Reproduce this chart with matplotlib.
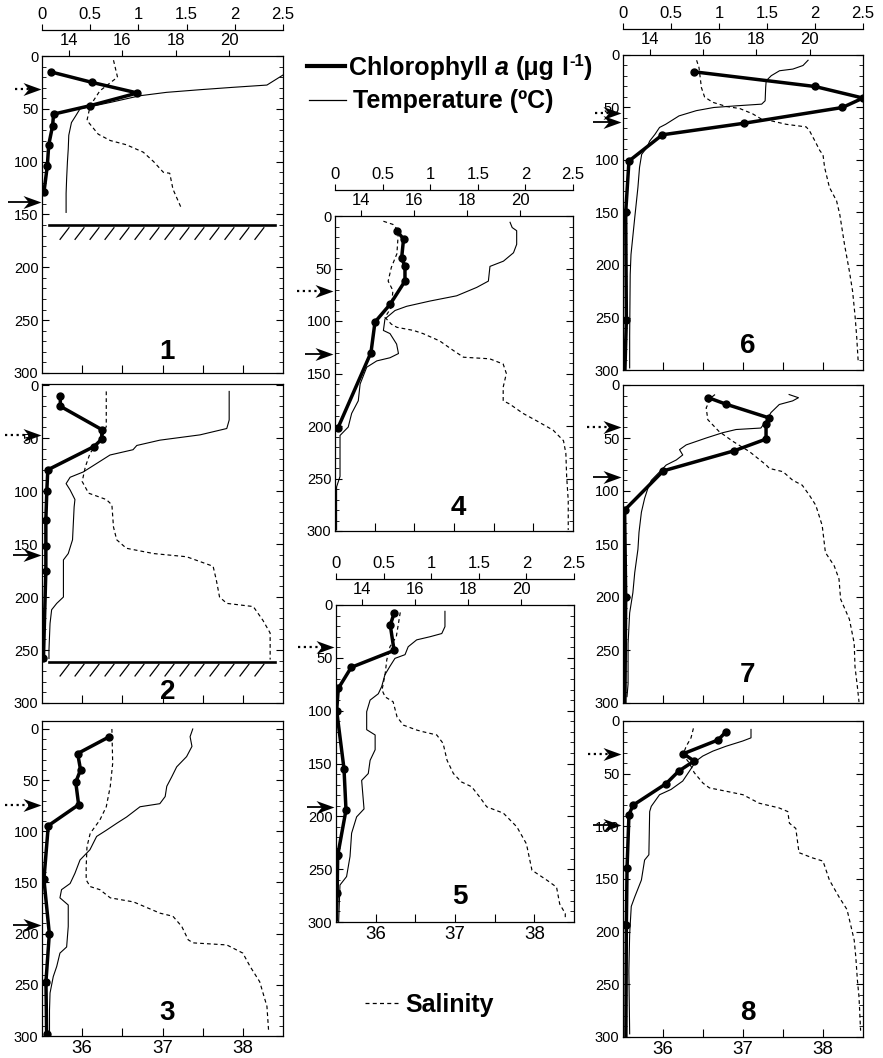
import numpy as np
import matplotlib
matplotlib.use("Agg")
import matplotlib.pyplot as plt
from matplotlib.path import Path
from matplotlib.lines import Line2D
from matplotlib import transforms as mtrans
from matplotlib.ticker import MultipleLocator, FixedLocator, FixedFormatter, NullLocator

plt.rcParams['font.family'] = ['Liberation Sans', 'DejaVu Sans']
plt.rcParams['axes.linewidth'] = 0.9

# ---------------- data ----------------
chl_ticks = [0, 0.5, 1, 1.5, 2, 2.5]
chl_ticklabels = ['0', '0.5', '1', '1.5', '2', '2.5']
temp_ticks = [14, 16, 18, 20]
temp_ticklabels = ['14', '16', '18', '20']
sal_ticks = [36, 37, 38]
sal_ticklabels = ['36', '37', '38']
sal_minor_ticks = [36.5, 37.5]

# Station 1
chl1_depth = [15, 25, 35, 47, 55, 66, 84, 104, 129]
chl1 = [0.09, 0.52, 0.99, 0.50, 0.12, 0.11, 0.07, 0.055, 0.02]
temp1_depth = [14, 18, 27.5, 29.7, 31.9, 34.4, 37.6, 44, 50, 57, 63, 75, 88, 100, 116, 130, 148]
temp1 = [22.3, 22.0, 21.4, 20.1, 18.9, 17.65, 16.66, 15.54, 14.42, 14.25, 14.1, 14.0, 13.98, 13.95, 13.92, 13.9, 13.9]
sal1_depth = [4, 20, 33, 47, 61, 74, 80, 84, 91, 100, 110, 111, 126, 145]
sal1 = [36.39, 36.44, 36.22, 36.10, 36.06, 36.20, 36.35, 36.55, 36.76, 36.89, 37.01, 37.09, 37.13, 37.24]

# Station 2
chl2_depth = [10, 20, 42, 51, 58, 80, 100, 127, 152, 175, 258]
chl2 = [0.19, 0.19, 0.62, 0.62, 0.54, 0.06, 0.05, 0.04, 0.04, 0.04, 0.015]
temp2_depth = [6, 33, 41, 47, 52, 57, 61, 66, 74, 82, 87, 93, 99, 108, 115, 146, 159, 165, 200, 206, 212, 225, 250, 258]
temp2 = [19.99, 19.99, 19.9, 18.9, 17.4, 16.54, 16.4, 15.54, 15.04, 14.54, 14.05, 13.9, 14.05, 14.23, 14.2, 14.14, 13.98, 13.8, 13.8, 13.55, 13.36, 13.3, 13.26, 13.26]
sal2_depth = [6, 39, 51, 64, 77, 91, 102, 108, 113, 134, 146, 154, 159, 162, 171, 184, 200, 206, 209, 222, 234, 259]
sal2 = [36.30, 36.30, 36.24, 36.10, 36.04, 36.00, 36.08, 36.30, 36.37, 36.39, 36.43, 36.55, 36.89, 37.30, 37.63, 37.67, 37.71, 37.80, 38.13, 38.25, 38.34, 38.34]

# Station 3
chl3_depth = [8, 24, 40, 52, 74, 94.5, 147, 200, 247, 298]
chl3 = [0.69, 0.37, 0.40, 0.35, 0.38, 0.065, 0.02, 0.076, 0.041, 0.048]
temp3_depth = [0, 7.5, 17, 27, 37, 47, 56, 66, 73, 76, 86, 92, 99, 105, 118, 128, 141, 151, 157, 165, 172, 193, 213, 219, 232, 242, 258, 275, 297]
temp3 = [18.63, 18.53, 18.6, 18.4, 18.03, 17.84, 17.66, 17.6, 17.4, 16.66, 16.16, 15.8, 15.4, 15.04, 14.79, 14.42, 14.23, 14.05, 13.73, 13.67, 13.98, 13.98, 13.92, 13.67, 13.55, 13.42, 13.3, 13.28, 13.28]
sal3_depth = [0, 33.5, 56, 76, 89, 102, 115, 134.5, 147.5, 154, 157, 165, 169, 180, 183, 193, 206, 209, 211, 219, 232, 247, 271, 294]
sal3 = [36.37, 36.38, 36.35, 36.30, 36.22, 36.10, 36.06, 36.05, 36.05, 36.10, 36.22, 36.35, 36.64, 36.97, 37.13, 37.24, 37.32, 37.38, 37.80, 38.00, 38.09, 38.21, 38.30, 38.32]

# Station 4
chl4_depth = [14, 22, 40, 48, 62, 84, 101, 130, 202]
chl4 = [0.65, 0.72, 0.70, 0.735, 0.735, 0.58, 0.42, 0.378, 0.03]
temp4_depth = [6, 11, 14, 27, 35, 43, 48, 62, 68, 76, 81, 86, 90, 98, 109, 112, 122, 131, 135, 138, 144, 160, 176, 188, 201, 209, 248, 258, 299]
temp4 = [19.62, 19.7, 19.87, 19.87, 19.75, 19.37, 18.86, 18.8, 18.36, 17.6, 16.59, 15.71, 15.27, 14.89, 14.83, 15.08, 15.33, 15.4, 15.08, 14.58, 14.2, 13.95, 13.88, 13.63, 13.5, 13.19, 13.19, 13.06, 13.06]
sal4_depth = [5, 8, 14, 36, 49, 62, 71, 87, 96.5, 103, 106, 109, 112, 119, 128, 134.5, 136, 141, 150, 163, 176, 179, 188, 195, 204, 214, 226, 248, 271, 299]
sal4 = [36.11, 36.23, 36.30, 36.28, 36.21, 36.17, 36.23, 36.21, 36.13, 36.21, 36.28, 36.49, 36.61, 36.82, 36.99, 37.12, 37.45, 37.62, 37.66, 37.62, 37.62, 37.70, 37.87, 38.04, 38.25, 38.38, 38.41, 38.42, 38.44, 38.44]

# Station 5
chl5_depth = [8, 19, 43, 59, 79, 100, 155, 194, 237, 273, 298]
chl5 = [0.61, 0.57, 0.61, 0.16, 0.024, 0.007, 0.084, 0.105, 0.018, 0.012, 0.005]
temp5_depth = [6, 20.5, 27, 30, 33, 39.5, 47, 50.5, 58, 66, 77, 84, 90, 101, 118, 123, 137, 147, 159.5, 166, 193, 200.5, 216, 238, 257, 265, 300]
temp5 = [17.12, 17.12, 17.0, 16.56, 16.05, 15.73, 15.61, 15.23, 15.04, 14.85, 14.73, 14.6, 14.29, 14.16, 14.16, 14.48, 14.48, 14.29, 14.22, 13.97, 14.06, 13.78, 13.59, 13.53, 13.4, 13.15, 13.1]
sal5_depth = [7, 30, 39.5, 52, 65, 80.5, 87, 91.6, 106, 113.7, 118.4, 120, 123, 131, 147, 159.5, 167.4, 172, 181.6, 191, 197, 210, 226, 251, 260.5, 267, 283, 292, 298]
sal5 = [36.31, 36.26, 36.18, 36.14, 36.12, 36.08, 36.12, 36.22, 36.27, 36.35, 36.52, 36.60, 36.77, 36.85, 36.90, 36.98, 37.08, 37.21, 37.31, 37.40, 37.61, 37.78, 37.90, 37.97, 38.16, 38.28, 38.32, 38.39, 38.39]

# Station 6
chl6_depth = [16, 30, 41, 50, 65, 76, 101, 150, 252, 300]
chl6 = [0.74, 2.0, 2.5, 2.285, 1.26, 0.41, 0.062, 0.028, 0.035, 0.02]
temp6_depth = [5, 10, 13.4, 15, 19.7, 24.5, 31, 43.6, 46.8, 48.4, 50, 53, 58, 66, 69, 75.5, 82, 88, 94.6, 107, 126, 155, 190, 209, 267, 298]
temp6 = [19.94, 19.75, 19.37, 18.87, 18.56, 18.37, 18.35, 18.33, 18.2, 17.25, 16.4, 15.75, 15.1, 14.6, 14.37, 14.2, 14.0, 13.9, 13.7, 13.62, 13.56, 13.44, 13.3, 13.27, 13.25, 13.25]
sal6_depth = [5, 12, 31, 40, 45, 49, 51, 56, 61, 63, 66, 68.5, 72, 82, 91, 95, 107, 126, 139, 152, 181, 206, 225, 248, 267, 292]
sal6 = [36.42, 36.45, 36.48, 36.52, 36.62, 36.79, 36.96, 37.12, 37.23, 37.37, 37.54, 37.79, 37.83, 37.90, 37.96, 38.00, 38.02, 38.08, 38.17, 38.21, 38.27, 38.33, 38.37, 38.40, 38.42, 38.44]

# Station 7
chl7_depth = [12, 18, 31, 37, 51, 62, 81, 118, 200, 300]
chl7 = [0.89, 1.07, 1.52, 1.49, 1.49, 1.16, 0.42, 0.017, 0.028, 0.02]
temp7_depth = [9, 12, 15, 18.4, 26, 34, 40.6, 42, 45, 50, 56.5, 61, 66, 70.7, 75.5, 82, 90, 97.7, 107, 120, 139, 155, 177, 196, 215, 244, 282, 294]
temp7 = [19.23, 19.58, 19.36, 18.86, 18.55, 18.36, 18.17, 17.24, 16.74, 16.12, 15.37, 15.12, 15.24, 15.0, 14.62, 14.37, 14.06, 13.93, 13.81, 13.69, 13.6, 13.56, 13.44, 13.37, 13.25, 13.19, 13.19, 13.15]
sal7_depth = [9, 12, 21.6, 32.7, 43.8, 53, 62.8, 75.5, 78.7, 81.8, 89.8, 94.5, 104, 113.5, 132.6, 158, 170.6, 183, 202, 221, 243.6, 265.8, 284.8, 299]
sal7 = [36.65, 36.60, 36.54, 36.56, 36.70, 36.87, 37.08, 37.29, 37.33, 37.50, 37.62, 37.74, 37.83, 37.91, 37.99, 38.03, 38.14, 38.20, 38.22, 38.33, 38.39, 38.40, 38.43, 38.45]

# Station 8
chl8_depth = [10.5, 18, 31, 38, 47.6, 59.4, 80, 89, 140, 194, 300]
chl8 = [1.07, 0.99, 0.63, 0.74, 0.58, 0.45, 0.104, 0.062, 0.042, 0.035, 0.03]
temp8_depth = [8, 16, 19, 24, 28.6, 33.3, 38, 47.6, 57, 65, 70, 81, 86, 127, 132, 151, 167, 176, 202, 237, 297]
temp8 = [17.8, 17.8, 17.49, 16.86, 16.37, 15.99, 15.74, 15.49, 15.24, 14.8, 14.37, 14.06, 14.0, 13.97, 13.81, 13.69, 13.44, 13.31, 13.25, 13.22, 13.25]
sal8_depth = [7, 16, 24, 32, 40, 49, 59, 63.5, 66.7, 70, 78, 82.5, 86, 97, 102, 125, 130, 133, 151, 167, 179, 195, 208, 224, 246, 262, 294]
sal8 = [36.38, 36.35, 36.29, 36.25, 36.33, 36.39, 36.50, 36.58, 36.79, 37.00, 37.20, 37.45, 37.56, 37.58, 37.66, 37.70, 37.87, 38.00, 38.08, 38.20, 38.30, 38.35, 38.39, 38.41, 38.43, 38.45, 38.47]

station_names = ['1', '2', '3', '4', '5', '6', '7', '8']
dotted_arrow_depth = [31, 47, 74, 71, 40, 55, 40, 31]
solid_arrow_depth = [138, 160, 191.5, 131, 191, 64, 87, 99]
seafloor_depth = {'1': 160, '2': 261}

chl_data = [(chl1_depth, chl1), (chl2_depth, chl2), (chl3_depth, chl3), (chl4_depth, chl4),
            (chl5_depth, chl5), (chl6_depth, chl6), (chl7_depth, chl7), (chl8_depth, chl8)]
temp_data = [(temp1_depth, temp1), (temp2_depth, temp2), (temp3_depth, temp3), (temp4_depth, temp4),
             (temp5_depth, temp5), (temp6_depth, temp6), (temp7_depth, temp7), (temp8_depth, temp8)]
sal_data = [(sal1_depth, sal1), (sal2_depth, sal2), (sal3_depth, sal3), (sal4_depth, sal4),
            (sal5_depth, sal5), (sal6_depth, sal6), (sal7_depth, sal7), (sal8_depth, sal8)]

# ---------------- layout (pixels from top-left) ----------------
W, H = 883, 1058
layout = [
    dict(rect=(42, 283, 56, 373), ytop=0, top=True, bottom=False, num_y=352, dot0=15, sol0=8, tip=41, lastmark=True),
    dict(rect=(42, 283, 384, 703), ytop=-1, top=False, bottom=False, num_y=692, dot0=5, sol0=13, tip=41, lastmark=True),
    dict(rect=(42, 283, 721, 1036), ytop=-7.8, top=False, bottom=True, num_y=1013, dot0=5, sol0=13, tip=41, lastmark=True),
    dict(rect=(335, 573, 216, 531), ytop=0, top=True, bottom=False, num_y=508, dot0=297, sol0=305, tip=333, lastmark=True),
    dict(rect=(336, 574, 605, 922), ytop=0, top=True, bottom=True, num_y=897, dot0=298, sol0=307, tip=334, lastmark=False),
    dict(rect=(623, 863, 55, 370), ytop=0, top=True, bottom=False, num_y=346, dot0=595, sol0=593, tip=621, lastmark=False),
    dict(rect=(623, 863, 385, 703), ytop=0, top=False, bottom=False, num_y=675, dot0=587, sol0=593, tip=621, lastmark=False),
    dict(rect=(623, 863, 721, 1037), ytop=0, top=False, bottom=True, num_y=1013, dot0=588, sol0=593, tip=621, lastmark=False),
]

fig = plt.figure(figsize=(W / 100, H / 100), dpi=100)
fig.patch.set_facecolor('white')

head_path = Path([(1, 0), (-1, 0.72), (-0.4, 0), (-1, -0.72), (1, 0)],
                 [Path.MOVETO, Path.LINETO, Path.LINETO, Path.LINETO, Path.CLOSEPOLY])
HEAD_PX = 18

for i, L in enumerate(layout):
    x0, x1, yt, yb = L['rect']
    ax = fig.add_axes([x0 / W, 1 - yb / H, (x1 - x0) / W, (yb - yt) / H])
    axs = ax.twiny()
    axc = ax.twiny()

    # temperature axis (main)
    ax.set_xlim(13, 22)
    ax.xaxis.set_ticks_position('top')
    ax.xaxis.set_minor_locator(NullLocator())
    if L['top']:
        ax.xaxis.set_major_locator(FixedLocator(temp_ticks))
        ax.xaxis.set_major_formatter(FixedFormatter(temp_ticklabels))
        ax.tick_params(axis='x', which='major', direction='out', length=4, width=0.8, pad=1.5,
                       labelsize=12, top=True, bottom=False, labeltop=True, labelbottom=False)
    else:
        ax.tick_params(axis='x', which='both', top=False, bottom=False, labeltop=False, labelbottom=False)

    # depth axis
    ax.yaxis.set_major_locator(MultipleLocator(50))
    ax.yaxis.set_minor_locator(MultipleLocator(10))
    ax.tick_params(axis='y', which='both', direction='in', left=True, right=True,
                   labelleft=True, labelright=False)
    ax.tick_params(axis='y', which='major', length=5, width=0.8, labelsize=10.5, pad=2.5)
    ax.tick_params(axis='y', which='minor', length=3, width=0.6)
    for s in ax.spines.values():
        s.set_linewidth(0.9)

    # salinity axis
    axs.set_xlim(35.5, 38.5)
    axs.xaxis.set_ticks_position('bottom')
    axs.xaxis.set_major_locator(FixedLocator(sal_ticks))
    axs.xaxis.set_major_formatter(FixedFormatter(sal_ticklabels))
    axs.xaxis.set_minor_locator(FixedLocator(sal_minor_ticks))
    axs.tick_params(axis='x', which='both', direction='in', length=5.5, width=0.8, bottom=True, top=False,
                    labelbottom=L['bottom'], labeltop=False, labelsize=13.5, pad=3)
    for s in axs.spines.values():
        s.set_visible(False)

    # chlorophyll axis
    axc.set_xlim(0, 2.5)
    for s in axc.spines.values():
        s.set_visible(False)
    if L['top']:
        sp = axc.spines['top']
        sp.set_visible(True)
        sp.set_position(('outward', 19))
        sp.set_linewidth(0.9)
        axc.xaxis.set_ticks_position('top')
        axc.xaxis.set_major_locator(FixedLocator(chl_ticks))
        axc.xaxis.set_major_formatter(FixedFormatter(chl_ticklabels))
        axc.xaxis.set_minor_locator(NullLocator())
        axc.tick_params(axis='x', which='major', direction='out', length=4, width=0.8, pad=1.5,
                        labelsize=12, top=True, bottom=False, labeltop=True, labelbottom=False)
    else:
        axc.xaxis.set_visible(False)

    # data lines
    td, tv = temp_data[i]
    ax.plot(tv, td, color='black', lw=0.8)
    sd, sv = sal_data[i]
    axs.plot(sv, sd, color='black', lw=0.85, ls=(0, (3.2, 2.6)))
    cd, cv = chl_data[i]
    axc.plot(cv, cd, color='black', lw=2.5, solid_joinstyle='miter')
    nmark = len(cv) if L['lastmark'] else len(cv) - 1
    axc.plot(cv[:nmark], cd[:nmark], ls='none', marker='o', ms=5, color='black')

    # sea floor
    name = station_names[i]
    if name in seafloor_depth:
        d = seafloor_depth[name]
        tr = mtrans.blended_transform_factory(ax.transAxes, ax.transData)
        axc.plot([0.03, 0.965], [d, d], color='black', lw=1.9, transform=tr, clip_on=False)
        for k in range(14):
            f = 0.075 + k * 0.0622
            axc.plot([f, f + 0.037], [d + 13.5, d + 2.5], color='black', lw=0.9, transform=tr, clip_on=False)

    # arrows (chlorophyll maximum / euphotic depth markers)
    trf = mtrans.blended_transform_factory(fig.transFigure, ax.transData)
    tip = L['tip']
    for depth, x_start, style in [(dotted_arrow_depth[i], L['dot0'], 'dot'),
                                  (solid_arrow_depth[i], L['sol0'], 'solid')]:
        ls = (0, (1.0, 1.6)) if style == 'dot' else '-'
        lw = 1.6 if style == 'dot' else 1.3
        axc.plot([x_start / W, (tip - HEAD_PX * 0.6) / W], [depth, depth], color='black', lw=lw, ls=ls,
                 transform=trf, clip_on=False, solid_capstyle='butt')
        axc.plot([(tip - HEAD_PX / 2) / W], [depth], ls='none', marker=head_path, ms=HEAD_PX * 0.72,
                 mew=0, color='black', transform=trf, clip_on=False)

    ax.set_ylim(300, L['ytop'])

    # station number
    ax.text(0.52, (yb - L['num_y']) / (yb - yt), name, transform=ax.transAxes, ha='center', va='center',
            fontsize=20, fontweight='bold')

# ---------------- legend ----------------
renderer = fig.canvas.get_renderer()


def seq_text(x_px, base_px, parts):
    x = x_px
    for s, size, style, dy, gap in parts:
        t = fig.text(x / W, 1 - (base_px - dy) / H, s, fontsize=size, fontweight='bold',
                     fontstyle=style, ha='left', va='baseline')
        bb = t.get_window_extent(renderer)
        x = bb.x1 + gap


fig.add_artist(Line2D([307 / W, 345 / W], [1 - 66 / H, 1 - 66 / H], color='black', lw=3.0,
                      transform=fig.transFigure))
seq_text(349, 75, [("Chlorophyll", 18, 'normal', 0, 7), ("a", 18, 'italic', 0, 7),
                   ("(\u03bcg", 18, 'normal', 0, 7), ("l", 18, 'normal', 0, 1),
                   ("-1", 12, 'normal', 9, 0), (")", 18, 'normal', 0, 0)])

fig.add_artist(Line2D([309 / W, 346 / W], [1 - 100 / H, 1 - 100 / H], color='black', lw=0.9,
                      transform=fig.transFigure))
seq_text(353, 108, [("Temperature (\u00baC)", 18, 'normal', 0, 0)])

fig.add_artist(Line2D([365 / W, 400 / W], [1 - 1003 / H, 1 - 1003 / H], color='black', lw=0.9,
                      ls=(0, (3.2, 2.6)), transform=fig.transFigure))
seq_text(405, 1012, [("Salinity", 18, 'normal', 0, 0)])

fig.savefig('out.png', dpi=100, facecolor='white')
